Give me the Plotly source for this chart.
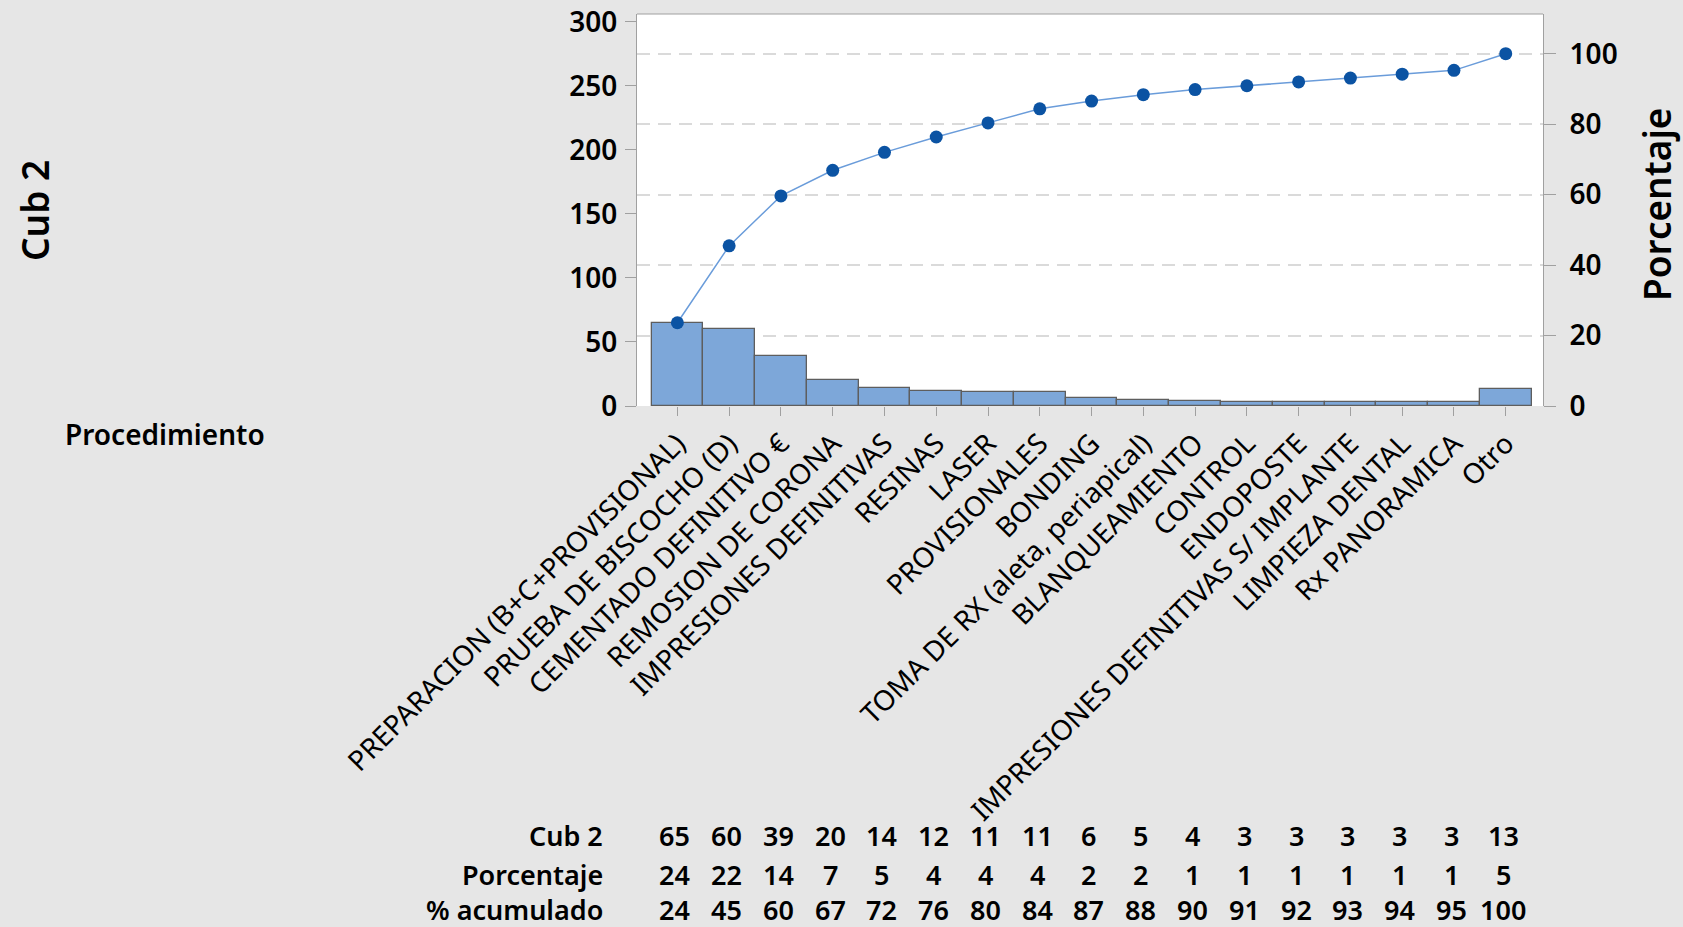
import plotly.graph_objects as go
import numpy as np

categories = [
    "PREPARACION (B+C+PROVISIONAL)", "PRUEBA DE BISCOCHO (D)", "CEMENTADO DEFINITIVO €",
    "REMOSION DE CORONA", "IMPRESIONES DEFINITIVAS", "RESINAS", "LASER", "PROVISIONALES",
    "BONDING", "TOMA DE RX (aleta, periapical)", "BLANQUEAMIENTO", "CONTROL", "ENDOPOSTE",
    "IMPRESIONES DEFINITIVAS S/ IMPLANTE", "LIMPIEZA DENTAL", "Rx PANORAMICA", "Otro",
]
counts = [65, 60, 39, 20, 14, 12, 11, 11, 6, 5, 4, 3, 3, 3, 3, 3, 13]
pct_labels = [24, 22, 14, 7, 5, 4, 4, 4, 2, 2, 1, 1, 1, 1, 1, 1, 5]
cum_labels = [24, 45, 60, 67, 72, 76, 80, 84, 87, 88, 90, 91, 92, 93, 94, 95, 100]
left_ticks = [0, 50, 100, 150, 200, 250, 300]
right_ticks = [0, 20, 40, 60, 80, 100]

W, H = 1683, 927
L, R, T, B = 637, 1543, 14, 406
total = float(sum(counts))
cum_pct = np.cumsum(counts) / total * 100.0

FONT = "Noto Sans"
x = list(range(len(categories)))

fig = go.Figure()
fig.add_trace(go.Bar(
    x=x, y=counts, width=1.0,
    marker=dict(color="#7DA7D9", line=dict(color="#5E5E5E", width=1.3)),
    hoverinfo="skip", showlegend=False,
))
fig.add_trace(go.Scatter(
    x=x, y=cum_pct, yaxis="y2", mode="lines+markers",
    line=dict(color="#6A9CDA", width=1.5),
    marker=dict(color="#0B53A3", size=13),
    showlegend=False, hoverinfo="skip",
))

ymax = 306.0

def px_to_paper_x(px):
    return (px - L) / (R - L)

def px_to_paper_y(py):
    return (B - py) / (B - T)

annotations = []
rows = [("Cub 2", counts, 835), ("Porcentaje", pct_labels, 875), ("% acumulado", cum_labels, 909)]
for label, vals, py in rows:
    annotations.append(dict(
        text=label, xref="paper", yref="paper", x=px_to_paper_x(605), y=px_to_paper_y(py),
        xanchor="right", yanchor="middle", showarrow=False,
        font=dict(family=FONT, size=27, color="black", weight=600),
    ))
    for i, v in enumerate(vals):
        annotations.append(dict(
            text=str(v), xref="x", yref="paper", x=i - 0.05, y=px_to_paper_y(py),
            xanchor="center", yanchor="middle", showarrow=False,
            font=dict(family=FONT, size=27, color="black", weight=600),
        ))
annotations.append(dict(
    text="Cub 2", xref="paper", yref="paper", x=px_to_paper_x(34), y=px_to_paper_y(211),
    xanchor="center", yanchor="middle", textangle=-90, showarrow=False,
    font=dict(family=FONT, size=37, color="black", weight=600),
))
annotations.append(dict(
    text="Porcentaje", xref="paper", yref="paper", x=px_to_paper_x(1656), y=px_to_paper_y(204),
    xanchor="center", yanchor="middle", textangle=-90, showarrow=False,
    font=dict(family=FONT, size=37, color="black", weight=600),
))
annotations.append(dict(
    text="Procedimiento", xref="paper", yref="paper", x=px_to_paper_x(165), y=px_to_paper_y(434),
    xanchor="center", yanchor="middle", showarrow=False,
    font=dict(family=FONT, size=28, color="black", weight=600),
))

fig.update_layout(
    template="none",
    width=W, height=H,
    margin=dict(l=L, r=W - R, t=T, b=H - B, pad=0),
    paper_bgcolor="#E6E6E6", plot_bgcolor="white",
    bargap=0,
    xaxis=dict(
        tickmode="array", tickvals=x, ticktext=categories, tickangle=-45,
        range=[-0.78, 16.72], showline=False, showgrid=False, zeroline=False,
        ticks="outside", ticklen=9, tickcolor="#A0A0A0", tickwidth=1,
        tickfont=dict(family=FONT, size=28, color="black"), automargin=False,
    ),
    yaxis=dict(
        range=[0, ymax], tickmode="array", tickvals=left_ticks,
        showgrid=False, zeroline=False, showline=True, linecolor="#A0A0A0", linewidth=1,
        ticks="outside", ticklen=11, tickcolor="#A0A0A0",
        tickfont=dict(family=FONT, size=28, color="black", weight=600), automargin=False,
        ticklabelstandoff=2,
    ),
    yaxis2=dict(
        overlaying="y", side="right", range=[0, ymax / total * 100.0],
        tickmode="array", tickvals=right_ticks,
        showgrid=True, gridcolor="#DADADA", gridwidth=2, griddash="13px,8px",
        zeroline=False, showline=True, linecolor="#A0A0A0", linewidth=1,
        ticks="outside", ticklen=12, tickcolor="#A0A0A0",
        tickfont=dict(family=FONT, size=28, color="black", weight=600), automargin=False,
        ticklabelstandoff=8,
    ),
    shapes=[dict(type="line", xref="paper", yref="paper", x0=0, x1=1, y0=1, y1=1,
                 line=dict(color="#A0A0A0", width=1))],
    annotations=annotations,
)

fig.write_html(
    "out.html",
    config={"displayModeBar": False},
    post_script="document.body.style.margin='0px';document.body.style.overflow='hidden';",
)
